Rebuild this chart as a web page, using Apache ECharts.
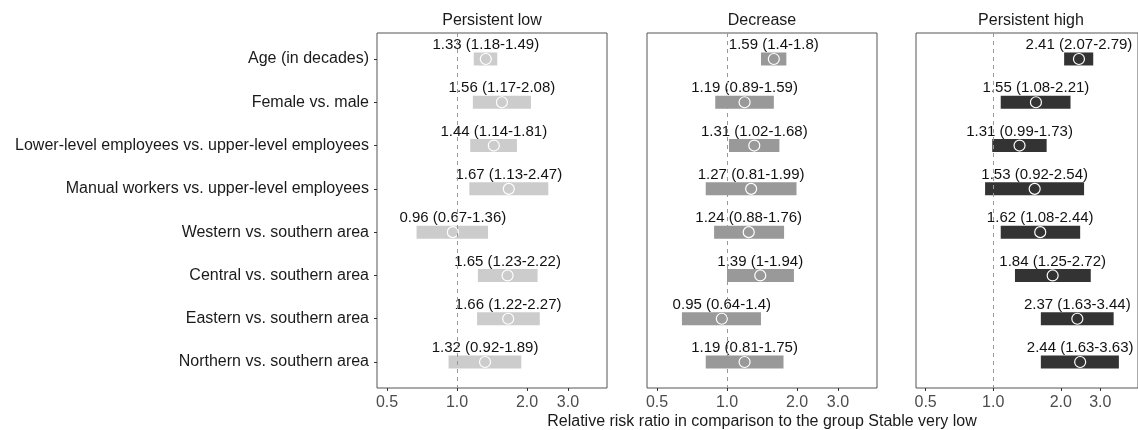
<!DOCTYPE html>
<html>
<head>
<meta charset="utf-8">
<script src="https://cdn.jsdelivr.net/npm/echarts@6/dist/echarts.min.js"></script>
<style>html,body{margin:0;padding:0;background:#fff}#c{width:1138px;height:430px}</style>
</head>
<body>
<div id="c"></div>
<script>
const categories = ["Age (in decades)", "Female vs. male", "Lower-level employees vs. upper-level employees", "Manual workers vs. upper-level employees", "Western vs. southern area", "Central vs. southern area", "Eastern vs. southern area", "Northern vs. southern area"];
const panels = ["Persistent low", "Decrease", "Persistent high"];
const xTicks = [0.5, 1, 2, 3];
const lowEst = [1.33, 1.56, 1.44, 1.67, 0.96, 1.65, 1.66, 1.32];
const lowLo  = [1.18, 1.17, 1.14, 1.13, 0.67, 1.23, 1.22, 0.92];
const lowHi  = [1.49, 2.08, 1.81, 2.47, 1.36, 2.22, 2.27, 1.89];
const decEst = [1.59, 1.19, 1.31, 1.27, 1.24, 1.39, 0.95, 1.19];
const decLo  = [1.4, 0.89, 1.02, 0.81, 0.88, 1, 0.64, 0.81];
const decHi  = [1.8, 1.59, 1.68, 1.99, 1.76, 1.94, 1.4, 1.75];
const highEst = [2.41, 1.55, 1.31, 1.53, 1.62, 1.84, 2.37, 2.44];
const highLo  = [2.07, 1.08, 0.99, 0.92, 1.08, 1.25, 1.63, 1.63];
const highHi  = [2.79, 2.21, 1.73, 2.54, 2.44, 2.72, 3.44, 3.63];
const xTitle = "Relative risk ratio in comparison to the group Stable very low";

const panelData = [
  {est: lowEst, lo: lowLo, hi: lowHi, color: '#cccccc'},
  {est: decEst, lo: decLo, hi: decHi, color: '#999999'},
  {est: highEst, lo: highLo, hi: highHi, color: '#333333'}
];
const lefts = [377, 647, 916];
const W = 230, TOP = 33, H = 355;
const FONT = 'Liberation Sans, Arial, Helvetica, sans-serif';

const grids = [], xAxes = [], yAxes = [], series = [], titles = [];
panelData.forEach((p, i) => {
  grids.push({left: lefts[i], top: TOP, width: W, height: H, show: true, borderColor: '#555', borderWidth: 1, backgroundColor: 'transparent', containLabel: false});
  xAxes.push({
    type: 'log', logBase: 10, gridIndex: i, position: 'bottom', min: Math.pow(2, -80/70), max: Math.pow(2, 150/70),
    axisLine: {show: false, onZero: false}, splitLine: {show: false}, minorTick: {show: false},
    axisTick: {show: true, length: 3, lineStyle: {color: '#333'}, customValues: xTicks},
    axisLabel: {customValues: xTicks, formatter: v => Number(v).toFixed(1), color: '#4d4d4d', fontSize: 16, fontFamily: FONT, margin: 7}
  });
  yAxes.push({
    type: 'value', gridIndex: i, position: 'left', inverse: true, min: -0.6, max: categories.length - 1 + 0.6,
    axisLine: {show: false, onZero: false}, splitLine: {show: false},
    axisTick: {show: i === 0, length: 3, lineStyle: {color: '#333'}, customValues: categories.map((c, k) => k)},
    axisLabel: {show: i === 0, customValues: categories.map((c, k) => k), formatter: v => categories[Math.round(v)] || '', color: '#1a1a1a', fontSize: 16, fontFamily: FONT, margin: 8}
  });
  const bars = p.est.map((e, k) => [p.lo[k], p.hi[k], k]);
  series.push({
    type: 'custom', xAxisIndex: i, yAxisIndex: i, data: bars, z: 2,
    encode: {x: [0, 1], y: 2},
    renderItem: (params, api) => {
      const a = api.coord([api.value(0), api.value(2)]);
      const b = api.coord([api.value(1), api.value(2)]);
      const h = 13;
      return {type: 'rect', shape: {x: a[0], y: a[1] - h / 2, width: b[0] - a[0], height: h}, style: {fill: p.color}};
    },
    markLine: {
      silent: true, symbol: 'none', label: {show: false}, animation: false,
      lineStyle: {color: '#999', type: [4, 4], width: 1},
      data: [{xAxis: 1}]
    }
  });
  series.push({
    type: 'scatter', xAxisIndex: i, yAxisIndex: i, z: 3,
    data: p.est.map((e, k) => [e, k, p.lo[k], p.hi[k]]),
    symbol: 'circle', symbolSize: 11,
    itemStyle: {color: 'rgba(0,0,0,0)', borderColor: '#fff', borderWidth: 1.2, opacity: 1},
    label: {
      show: true, position: 'inside', offset: [0, -14], color: '#111', fontSize: 15, fontFamily: FONT,
      formatter: prm => `${prm.value[0]} (${prm.value[2]}-${prm.value[3]})`
    }
  });
  titles.push({text: panels[i], left: lefts[i] + W / 2, top: 13, padding: 0, textAlign: 'center',
    textStyle: {fontSize: 16, fontWeight: 'normal', color: '#1a1a1a', fontFamily: FONT}});
});
titles.push({text: xTitle, left: 762, top: 414, padding: 0, textAlign: 'center',
  textStyle: {fontSize: 16, fontWeight: 'normal', color: '#1a1a1a', fontFamily: FONT}});

const chart = echarts.init(document.getElementById('c'), null, {renderer: 'canvas'});
chart.setOption({animation: false, backgroundColor: '#fff', title: titles, grid: grids, xAxis: xAxes, yAxis: yAxes, series: series});
</script>
</body>
</html>
